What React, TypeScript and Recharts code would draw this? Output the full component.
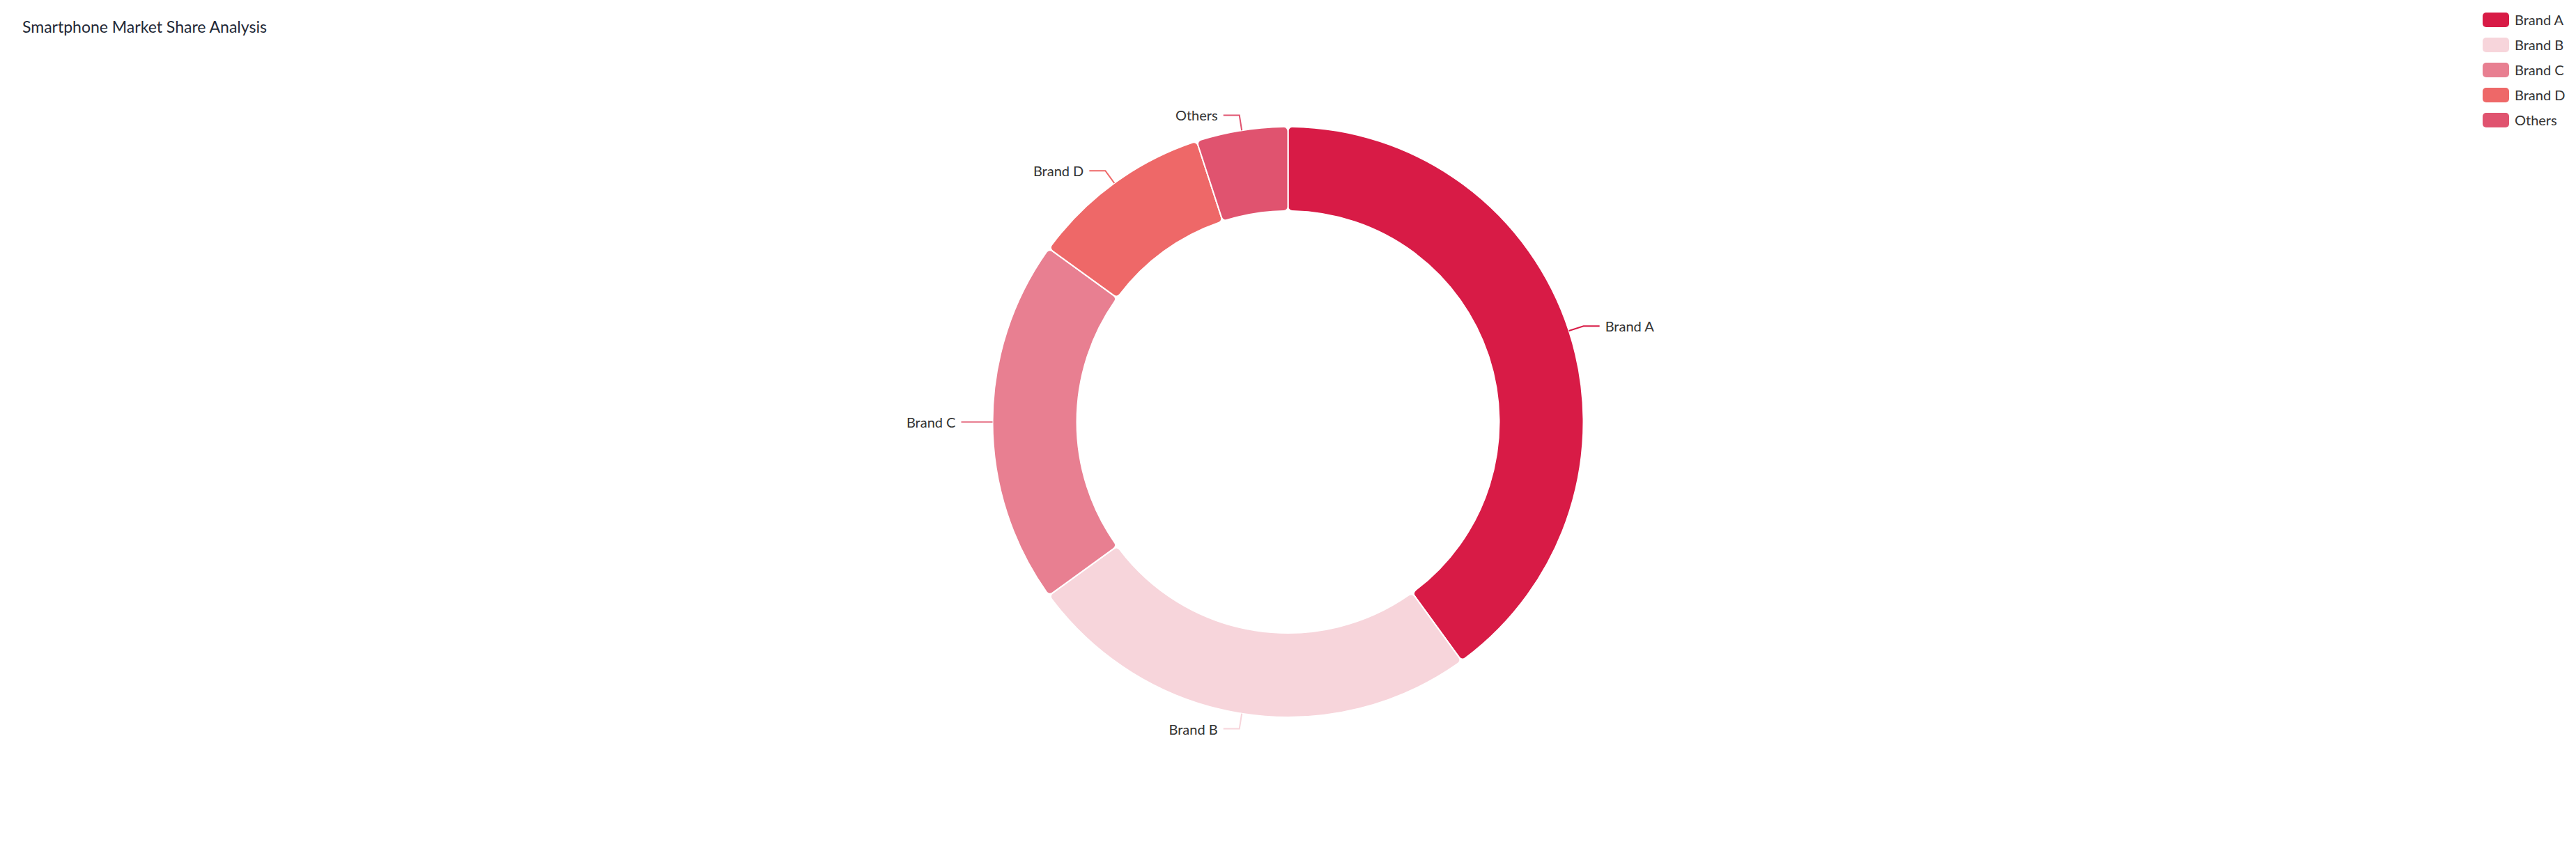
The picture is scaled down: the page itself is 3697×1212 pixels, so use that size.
import React from "react";
import { PieChart, Pie, Cell, Legend } from "recharts";

const W = 3697;
const H = 1212;

const categories = ["Brand A", "Brand B", "Brand C", "Brand D", "Others"];
const shares = [40, 25, 20, 10, 5];
const colors = ["#d81b46", "#f7d5db", "#e87f91", "#ee6868", "#e0536f"];

const data = categories.map((name, i) => ({ name, value: shares[i] }));

const FONT = "Lato, 'Noto Sans', sans-serif";
const RAD = Math.PI / 180;

function renderLabel(props: any) {
  const { cx, cy, midAngle, outerRadius, index } = props;
  const cos = Math.cos(-midAngle * RAD);
  const sin = Math.sin(-midAngle * RAD);
  const x0 = cx + outerRadius * cos;
  const y0 = cy + outerRadius * sin;
  const x1 = cx + (outerRadius + 22) * cos;
  const y1 = cy + (outerRadius + 22) * sin;
  const dir = cos >= 0 ? 1 : -1;
  const x2 = x1 + dir * 23;
  return (
    <g>
      <polyline
        points={`${x0},${y0} ${x1},${y1} ${x2},${y1}`}
        fill="none"
        stroke={colors[index]}
        strokeWidth={2}
      />
      <text
        x={x2 + dir * 8}
        y={y1}
        textAnchor={dir > 0 ? "start" : "end"}
        dominantBaseline="central"
        fill="#333"
        fontSize={20}
        fontFamily={FONT}
      >
        {categories[index]}
      </text>
    </g>
  );
}

function LegendBox() {
  return (
    <div style={{ fontFamily: FONT, fontSize: 20, color: "#333" }}>
      {categories.map((c, i) => (
        <div key={c} style={{ display: "flex", alignItems: "center", height: 36 }}>
          <span
            style={{
              width: 38,
              height: 21,
              borderRadius: 5,
              background: colors[i],
              marginRight: 8,
              display: "inline-block",
            }}
          />
          <span>{c}</span>
        </div>
      ))}
    </div>
  );
}

export default function App() {
  return (
    <div style={{ position: "absolute", left: 0, top: 0, width: W, height: H, background: "#fff" }}>
      <div
        style={{
          position: "absolute",
          left: 32,
          top: 24,
          fontFamily: FONT,
          fontSize: 23,
          color: "#1f2937",
          zIndex: 2,
        }}
      >
        Smartphone Market Share Analysis
      </div>
      <PieChart width={W} height={H} margin={{ top: 0, right: 0, bottom: 0, left: 0 }}>
        <Legend
          layout="vertical"
          align="right"
          verticalAlign="top"
          content={() => <LegendBox />}
          wrapperStyle={{ top: 10, left: 3563, width: 134 }}
        />
        <Pie
          data={data}
          dataKey="value"
          nameKey="name"
          cx={1848.5}
          cy={606}
          innerRadius={303}
          outerRadius={424}
          startAngle={90}
          endAngle={-270}
          cornerRadius={6}
          stroke="#fff"
          strokeWidth={2}
          label={renderLabel}
          labelLine={false}
          isAnimationActive={false}
        >
          {data.map((d, i) => (
            <Cell key={d.name} fill={colors[i]} />
          ))}
        </Pie>
      </PieChart>
    </div>
  );
}
